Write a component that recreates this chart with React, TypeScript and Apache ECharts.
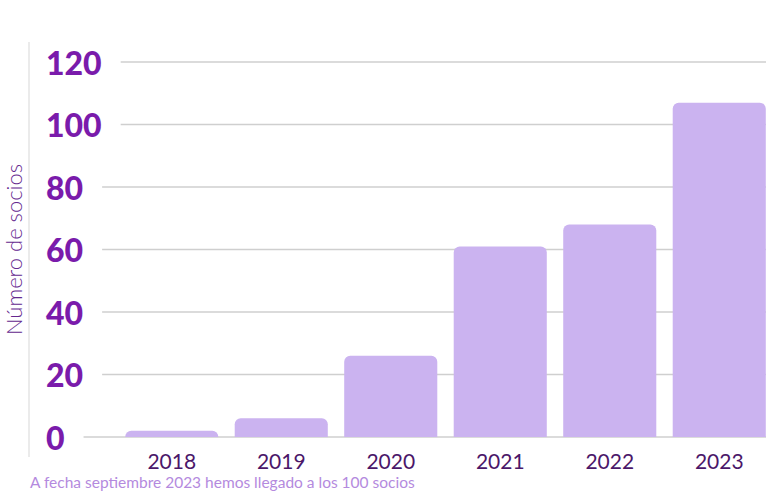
import React, { useEffect, useRef } from "react";
import * as echarts from "echarts";

const categories = ["2018", "2019", "2020", "2021", "2022", "2023"];
const socios = [2, 6, 26, 61, 68, 107];
const yTicks = [0, 20, 40, 60, 80, 100, 120];
const axisName = "Número de socios";
const footnote = "A fecha septiembre 2023 hemos llegado a los 100 socios";

export default function App() {
  const ref = useRef<HTMLDivElement>(null);
  useEffect(() => {
    const chart = echarts.init(ref.current!, undefined, { renderer: "svg" });
    chart.setOption({
      animation: false,
      backgroundColor: "#ffffff",
      grid: {
        left: 117,
        right: -8,
        top: 62,
        bottom: 59,
        containLabel: false,
        outerBoundsMode: "none",
      },
      title: {
        text: footnote,
        left: 25,
        bottom: 1,
        textStyle: { color: "#b48ade", fontSize: 15.5, fontWeight: 400, fontFamily: "Lato" },
      },
      graphic: [
        {
          type: "line",
          shape: { x1: 29, y1: 42, x2: 29, y2: 457 },
          style: { stroke: "#e4e4e4", lineWidth: 1.5 },
        },
      ],
      xAxis: {
        type: "category",
        data: categories,
        axisLine: { show: false },
        axisTick: { show: false },
        axisLabel: {
          color: "#4b1769",
          fontSize: 21,
          fontFamily: "Lato",
          fontWeight: 400,
          margin: 13,
        },
      },
      yAxis: {
        type: "value",
        min: yTicks[0],
        max: yTicks[yTicks.length - 1],
        interval: yTicks[1] - yTicks[0],
        name: axisName,
        nameLocation: "middle",
        nameGap: 93,
        nameTextStyle: { color: "#65288f", fontSize: 22, fontFamily: "Lato", fontWeight: 300 },
        axisLine: { show: false },
        axisTick: { show: false },
        splitLine: { show: false },
        axisLabel: {
          align: "left",
          margin: 71,
          formatter: (v: number) => `{v|${v}}{g| }`,
          rich: {
            v: {
              color: "#7a1bab",
              fontSize: 32,
              fontWeight: 900,
              fontFamily: "Lato",
              padding: [0, 19, 0, 0],
            },
            g: { width: 720, height: 1.3, backgroundColor: "#cfcfcf", fontSize: 1 },
          },
        },
      },
      series: [
        {
          type: "bar",
          data: socios,
          barCategoryGap: "15%",
          itemStyle: { color: "#cbb3f0", borderRadius: [6, 6, 0, 0] },
        },
      ],
    });
    return () => chart.dispose();
  }, []);
  return (
    <div
      ref={ref}
      style={{ position: "fixed", left: 0, top: 0, width: 766, height: 496 }}
    />
  );
}
